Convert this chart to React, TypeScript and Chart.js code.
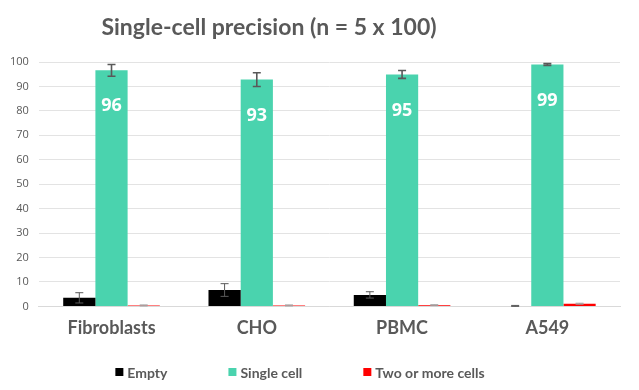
import React, { useEffect, useRef } from "react";
import { Chart, registerables } from "chart.js";

Chart.register(...registerables);

const categories = ["Fibroblasts", "CHO", "PBMC", "A549"];
const emptyValues = [3.5, 6.7, 4.7, 0.2];
const emptyErrors = [2.1, 2.6, 1.3, 0.2];
const singleValues = [96.6, 92.8, 94.9, 99.0];
const singleErrors = [2.4, 2.8, 1.6, 0.4];
const singleLabels = ["96", "93", "95", "99"];
const multiValues = [0.4, 0.4, 0.5, 1.1];
const multiErrors = [0.2, 0.2, 0.2, 0.2];
const yTicks = [0, 10, 20, 30, 40, 50, 60, 70, 80, 90, 100];
const titleText = "Single-cell precision (n = 5 x 100)";
const seriesNames = ["Empty", "Single cell", "Two or more cells"];
const seriesColors = ["#000000", "#4AD3AE", "#FF0000"];

const GREY = "#595959";

const errorBarPlugin = {
  id: "errorBars",
  afterDatasetsDraw(chart: any) {
    const { ctx } = chart;
    const yScale = chart.scales.y;
    const errs = [emptyErrors, singleErrors, multiErrors];
    chart.data.datasets.forEach((ds: any, di: number) => {
      const meta = chart.getDatasetMeta(di);
      meta.data.forEach((bar: any, i: number) => {
        const v = ds.data[i];
        const e = errs[di][i];
        const yTop = yScale.getPixelForValue(v + e);
        const yBot = yScale.getPixelForValue(Math.max(0, v - e));
        const x = bar.x;
        ctx.save();
        ctx.strokeStyle = di === 2 ? "#a0a0a0" : GREY;
        ctx.lineWidth = di === 1 ? 1.6 : 1;
        ctx.beginPath();
        ctx.moveTo(x, yTop);
        ctx.lineTo(x, yBot);
        ctx.moveTo(x - 4, yTop);
        ctx.lineTo(x + 4, yTop);
        ctx.moveTo(x - 4, yBot);
        ctx.lineTo(x + 4, yBot);
        ctx.stroke();
        ctx.restore();
      });
    });
  },
};

const labelPlugin = {
  id: "valueLabels",
  afterDatasetsDraw(chart: any) {
    const { ctx } = chart;
    const meta = chart.getDatasetMeta(1);
    ctx.save();
    ctx.fillStyle = "#ffffff";
    ctx.font = "bold 18px 'Open Sans', sans-serif";
    ctx.textAlign = "center";
    ctx.textBaseline = "middle";
    meta.data.forEach((bar: any, i: number) => {
      ctx.fillText(singleLabels[i], bar.x, bar.y + 36);
    });
    ctx.restore();
  },
};

const titlePlugin = {
  id: "customTitle",
  afterDraw(chart: any) {
    const { ctx } = chart;
    ctx.save();
    ctx.fillStyle = GREY;
    ctx.font = "bold 23px 'Lato', sans-serif";
    ctx.textAlign = "center";
    ctx.textBaseline = "middle";
    ctx.fillText(titleText, 269, 28);
    ctx.restore();
  },
};

const legendPlugin = {
  id: "customLegend",
  afterDraw(chart: any) {
    const { ctx } = chart;
    ctx.save();
    ctx.font = "bold 14px 'Lato', sans-serif";
    ctx.textBaseline = "middle";
    ctx.textAlign = "left";
    const box = 8;
    const gapText = 4;
    const gapItem = 61;
    const widths = seriesNames.map((n) => ctx.measureText(n).width);
    const total =
      widths.reduce((a, w) => a + box + gapText + w, 0) + gapItem * (seriesNames.length - 1);
    let x = 300 - total / 2;
    const y = 372;
    seriesNames.forEach((n, i) => {
      ctx.fillStyle = seriesColors[i];
      ctx.fillRect(x, y - box / 2, box, box);
      ctx.fillStyle = GREY;
      ctx.fillText(n, x + box + gapText, y + 1);
      x += box + gapText + widths[i] + gapItem;
    });
    ctx.restore();
  },
};

export default function App() {
  const ref = useRef<HTMLCanvasElement | null>(null);
  useEffect(() => {
    document.body.style.margin = "0";
    if (!ref.current) return;
    const chart = new Chart(ref.current, {
      type: "bar",
      data: {
        labels: categories,
        datasets: [
          { label: seriesNames[0], data: emptyValues, backgroundColor: seriesColors[0] },
          { label: seriesNames[1], data: singleValues, backgroundColor: seriesColors[1] },
          { label: seriesNames[2], data: multiValues, backgroundColor: seriesColors[2] },
        ],
      },
      options: {
        animation: false,
        responsive: false,
        maintainAspectRatio: false,
        layout: { padding: { top: 62, left: 0, right: 19, bottom: 48 } },
        datasets: { bar: { barPercentage: 1, categoryPercentage: 0.665 } },
        scales: {
          x: {
            grid: { display: false },
            border: { display: true, color: "#d9d9d9" },
            ticks: {
              color: GREY,
              font: { family: "'Lato', sans-serif", size: 18, weight: "bold" },
              padding: 3,
            },
          },
          y: {
            min: 0,
            max: 100,
            afterBuildTicks: (axis: any) => {
              axis.ticks = yTicks.map((v) => ({ value: v }));
            },
            grid: { color: "#e3e3e3", drawTicks: false },
            border: { display: false },
            ticks: {
              color: GREY,
              padding: 10,
              font: { family: "'Open Sans', sans-serif", size: 11 },
            },
          },
        },
        plugins: {
          legend: { display: false },
          tooltip: { enabled: false },
        },
      },
      plugins: [errorBarPlugin, labelPlugin, titlePlugin, legendPlugin],
    });
    return () => chart.destroy();
  }, []);
  return <canvas ref={ref} width={639} height={390} style={{ display: "block" }} />;
}
